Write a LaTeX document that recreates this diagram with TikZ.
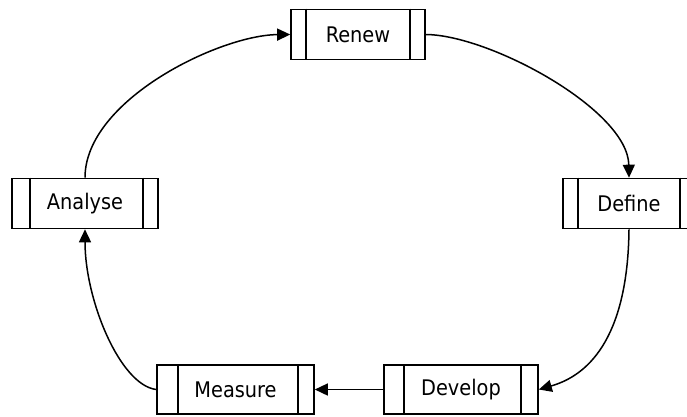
\documentclass[tikz,border=0pt]{standalone}
\usepackage{fontspec}
\setmainfont{DejaVu Sans Condensed}
\usetikzlibrary{arrows.meta}
\begin{document}
\begin{tikzpicture}[x=1pt,y=-1pt,
  proc/.style={draw, line width=1.6pt, rectangle, inner sep=0pt,
    minimum height=50pt, font=\fontsize{21.5}{22}\selectfont},
  flow/.style={line width=1.5pt, -{Triangle[length=13pt,width=12pt]}}]
\useasboundingbox (0,0) rectangle (687,416);
\clip (0,0) rectangle (687,416);

% process boxes
\node[proc, minimum width=134pt] (renew)   at (358,34.5)  {Renew};
\node[proc, minimum width=146pt] (analyse) at (85,203.5)  {Analyse};
\node[proc, minimum width=132pt] (define)  at (629,203.5) {Define};
\node[proc, minimum width=157pt, minimum height=49pt] (measure) at (235.5,389.5) {Measure};
\node[proc, minimum width=154pt, minimum height=49pt] (develop) at (461,389.5)  {Develop};

% side bars of each box
\foreach \n/\l/\r in {renew/16/16, analyse/19/16, define/16/16, measure/22/17, develop/21/18}{
  \draw[line width=1.6pt] ([xshift=\l pt]\n.north west) -- ([xshift=\l pt]\n.south west);
  \draw[line width=1.6pt] ([xshift=-\r pt]\n.north east) -- ([xshift=-\r pt]\n.south east);
}

% cycle connectors
\draw[flow] (renew.east) .. controls (490,35) and (628,110) .. (define.north);
\draw[flow] (define.south) .. controls (628,320) and (600,372) .. (develop.east);
\draw[flow] (develop.west) -- (measure.east);
\draw[flow] (measure.west) .. controls (120,385) and (85,300) .. (analyse.south);
\draw[flow] (analyse.north) .. controls (85,100) and (220,35) .. (renew.west);
\end{tikzpicture}
\end{document}
